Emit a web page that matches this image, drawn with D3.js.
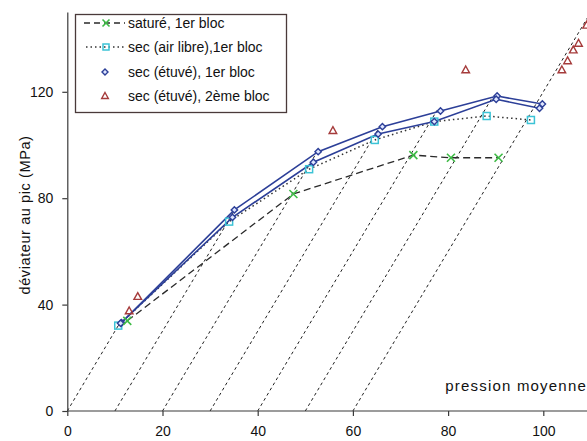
<!DOCTYPE html>
<html>
<head>
<meta charset="utf-8">
<script src="https://cdn.jsdelivr.net/npm/d3@7"></script>
<style>
  html, body { margin: 0; padding: 0; background: #fff; }
  svg { display: block; }
  text { font-family: "Liberation Sans", Arial, sans-serif; fill: #111; }
</style>
</head>
<body>
<svg id="chart" width="587" height="441"></svg>
<script>
// Loading paths (slope 3): start pressure on the axis and end deviator
const guideStart = [0, 10, 20, 30, 40, 50, 60];
const guideEndQ = [33, 76, 98, 108, 113, 118, 160];

// Peak deviator (MPa) vs mean pressure (MPa)
const satureP = [12.6, 47.5, 72.7, 80.6, 90.6];
const satureQ = [33.9, 81.6, 96.2, 95.2, 95.2];

const airLibreP = [10.7, 34.0, 50.8, 64.6, 77.1, 88.1, 97.4];
const airLibreQ = [32.1, 71.2, 90.9, 101.9, 108.8, 110.9, 109.4];

const etuveAP = [11.4, 35.1, 52.7, 66.2, 78.4, 90.3, 99.8];
const etuveAQ = [33.2, 75.6, 97.5, 106.9, 112.8, 118.4, 115.4];

const etuveBP = [11.2, 34.7, 51.7, 65.3, 77.1, 90.1, 99.2];
const etuveBQ = [33.0, 72.8, 93.5, 104.1, 108.8, 117.2, 113.8];

const bloc2P = [13.0, 14.8, 55.8, 83.7, 103.9, 105.1, 106.3, 107.4, 109.1];
const bloc2Q = [37.6, 43.0, 105.4, 128.2, 128.2, 131.6, 135.7, 138.2, 145.0];

const xTicks = [0, 20, 40, 60, 80, 100];
const yTicks = [0, 40, 80, 120];

const legendLabels = ["saturé, 1er bloc", "sec (air libre),1er bloc", "sec (étuvé), 1er bloc", "sec (étuvé), 2ème bloc"];

const C_GREEN = "#3dbb45", C_CYAN = "#3cc3d6", C_BLUE = "#2c3f98", C_RED = "#a53b3b", C_AX = "#3a3a3a";

const svg = d3.select("#chart");
const x = d3.scaleLinear().domain([0, 110]).range([67.3, 67.3 + 110 * 4.76]);
const y = d3.scaleLinear().domain([0, 150]).range([411, 12]);

const zip = (a, b) => a.map((v, i) => [v, b[i]]);
const line = d3.line().x(d => x(d[0])).y(d => y(d[1]));

// plot clip
svg.append("defs").append("clipPath").attr("id", "plot")
  .append("rect").attr("x", 67).attr("y", 0).attr("width", 540).attr("height", 412);
const g = svg.append("g").attr("clip-path", "url(#plot)");

// loading paths
guideStart.forEach((p0, i) => {
  const qe = guideEndQ[i];
  g.append("path")
    .attr("d", line([[p0, 0], [p0 + qe / 3, qe]]))
    .attr("fill", "none").attr("stroke", "#222").attr("stroke-width", 1)
    .attr("stroke-dasharray", "3,3");
});

// series lines
g.append("path").attr("d", line(zip(satureP, satureQ)))
  .attr("fill", "none").attr("stroke", "#2a2a2a").attr("stroke-width", 1.3)
  .attr("stroke-dasharray", "7,4");
g.append("path").attr("d", line(zip(airLibreP, airLibreQ)))
  .attr("fill", "none").attr("stroke", "#333").attr("stroke-width", 1.5)
  .attr("stroke-dasharray", "1.5,3");
[zip(etuveAP, etuveAQ), zip(etuveBP, etuveBQ)].forEach(d => {
  g.append("path").attr("d", line(d))
    .attr("fill", "none").attr("stroke", C_BLUE).attr("stroke-width", 1.6);
});

// markers
function cross(sel, cx, cy, r) {
  sel.append("path").attr("d", `M${cx - r},${cy - r}L${cx + r},${cy + r}M${cx - r},${cy + r}L${cx + r},${cy - r}`)
    .attr("stroke", C_GREEN).attr("stroke-width", 1.6).attr("fill", "none");
}
function square(sel, cx, cy, r) {
  sel.append("rect").attr("x", cx - r).attr("y", cy - r).attr("width", 2 * r).attr("height", 2 * r)
    .attr("fill", "none").attr("stroke", C_CYAN).attr("stroke-width", 1.5);
}
function diamond(sel, cx, cy, r) {
  sel.append("path").attr("d", `M${cx},${cy - r}L${cx + r},${cy}L${cx},${cy + r}L${cx - r},${cy}Z`)
    .attr("fill", "#dfe6ff").attr("stroke", C_BLUE).attr("stroke-width", 1.4);
}
function triangle(sel, cx, cy, r) {
  sel.append("path").attr("d", `M${cx},${cy - r}L${cx + r * 0.95},${cy + r * 0.7}L${cx - r * 0.95},${cy + r * 0.7}Z`)
    .attr("fill", "none").attr("stroke", C_RED).attr("stroke-width", 1.4);
}

zip(airLibreP, airLibreQ).forEach(d => square(g, x(d[0]), y(d[1]), 3.5));
zip(etuveAP, etuveAQ).concat(zip(etuveBP, etuveBQ)).forEach(d => diamond(g, x(d[0]), y(d[1]), 3.2));
zip(satureP, satureQ).forEach(d => cross(g, x(d[0]), y(d[1]), 4));
zip(bloc2P, bloc2Q).forEach(d => triangle(g, x(d[0]), y(d[1]), 4));

// axes
const xAxis = svg.append("g").attr("transform", `translate(0,${y(0)})`)
  .call(d3.axisBottom(x).tickValues(xTicks).tickSize(5).tickPadding(10).tickSizeOuter(0));
const yAxis = svg.append("g").attr("transform", `translate(${x(0)},0)`)
  .call(d3.axisLeft(y).tickValues(yTicks).tickSize(5).tickPadding(9).tickSizeOuter(0));
[xAxis, yAxis].forEach(a => {
  a.select(".domain").attr("stroke", C_AX).attr("stroke-width", 1.2);
  a.selectAll(".tick line").attr("stroke", C_AX).attr("stroke-width", 1.2);
  a.selectAll(".tick text").attr("font-size", 14).attr("fill", "#111")
    .attr("font-family", "'Liberation Sans', Arial, sans-serif");
});
xAxis.select(".domain").attr("d", `M${x(0)},0H587`);

// axis titles
svg.append("text").attr("x", 587).attr("y", 391).attr("text-anchor", "end")
  .attr("font-size", 15).attr("letter-spacing", 1.2).text("pression moyenne");
svg.append("text").attr("transform", `translate(30,215) rotate(-90)`).attr("text-anchor", "middle")
  .attr("font-size", 14.5).attr("letter-spacing", 0.6).text("déviateur au pic (MPa)");

// legend
const lg = svg.append("g");
lg.append("rect").attr("x", 75.5).attr("y", 14.5).attr("width", 211).attr("height", 98)
  .attr("fill", "#fff").attr("stroke", "#4a3a3a").attr("stroke-width", 1.3);
const rowY = [23, 47, 72, 96];
legendLabels.forEach((t, i) => {
  const cy = rowY[i];
  if (i === 0) {
    lg.append("line").attr("x1", 84).attr("x2", 125).attr("y1", cy).attr("y2", cy)
      .attr("stroke", "#2a2a2a").attr("stroke-width", 1.3).attr("stroke-dasharray", "6,4");
    cross(lg, 106, cy, 3.5);
  } else if (i === 1) {
    lg.append("line").attr("x1", 86).attr("x2", 125).attr("y1", cy).attr("y2", cy)
      .attr("stroke", "#333").attr("stroke-width", 1.5).attr("stroke-dasharray", "1.5,3");
    square(lg, 106, cy, 3);
  } else if (i === 2) {
    diamond(lg, 105, cy, 3);
  } else {
    triangle(lg, 105, cy, 3.5);
  }
  lg.append("text").attr("x", 128).attr("y", cy + 5).attr("font-size", 14).text(t);
});
</script>
</body>
</html>
